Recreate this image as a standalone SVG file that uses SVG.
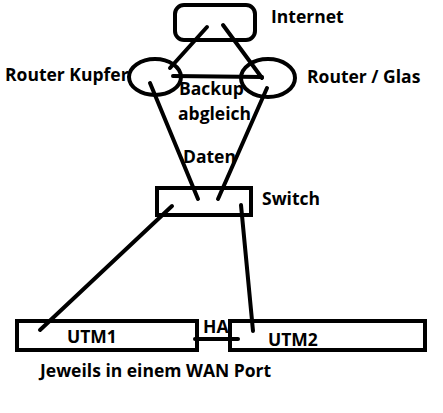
<svg xmlns="http://www.w3.org/2000/svg" width="443" height="413" viewBox="0 0 443 413">
<style>
.s{fill:none;stroke:#000;stroke-width:4;stroke-linecap:round}
.t{font-family:"Open Sans","Liberation Sans",sans-serif;font-weight:bold;font-size:17.5px;fill:#000}
</style>
<rect width="443" height="413" fill="#fff"/>
<g id="connectors">
<line class="s" x1="207" y1="27" x2="170" y2="68"/>
<line class="s" x1="223" y1="25" x2="262" y2="78"/>
<line class="s" x1="173" y1="76" x2="262" y2="77"/>
<line class="s" x1="150" y1="83" x2="198" y2="199"/>
<line class="s" x1="267" y1="88" x2="218" y2="199"/>
<line class="s" x1="172" y1="206" x2="40" y2="330"/>
<line class="s" x1="241" y1="205" x2="253" y2="331"/>
<line class="s" x1="195" y1="339" x2="238" y2="339"/>
</g>
<g id="internet">
<rect class="s" x="175" y="5" width="80" height="35" rx="9"/>
<text class="t" x="271" y="23">Internet</text>
</g>
<g id="router-kupfer">
<ellipse class="s" cx="155" cy="77" rx="26" ry="18"/>
<text class="t" x="5" y="81">Router Kupfer</text>
</g>
<g id="router-glas">
<ellipse class="s" cx="268" cy="78" rx="27" ry="19"/>
<text class="t" x="307" y="83">Router / Glas</text>
</g>
<g id="labels">
<text class="t" x="179" y="95">Backup</text>
<text class="t" x="178" y="120">abgleich</text>
<text class="t" x="183" y="163">Daten</text>
</g>
<g id="switch">
<rect class="s" x="157" y="188" width="94" height="27" style="stroke-linecap:square"/>
<text class="t" x="262" y="205">Switch</text>
</g>
<g id="utm1">
<rect class="s" x="17" y="321" width="180" height="29" style="stroke-linecap:square"/>
<text class="t" x="67" y="343">UTM1</text>
</g>
<g id="utm2">
<rect class="s" x="230" y="321" width="195" height="29" style="stroke-linecap:square"/>
<text class="t" x="268" y="346">UTM2</text>
</g>
<g id="ha">
<text class="t" x="203" y="333">HA</text>
</g>
<text class="t" x="40" y="377">Jeweils in einem WAN Port</text>
</svg>
